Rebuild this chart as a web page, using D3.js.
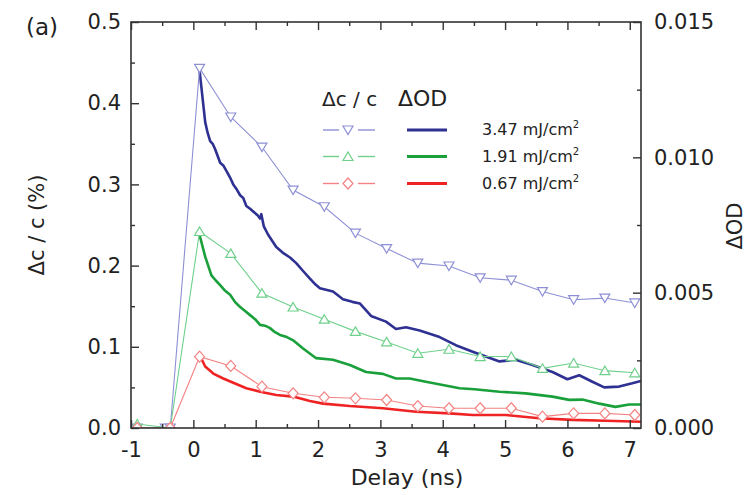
<!DOCTYPE html>
<html><head><meta charset="utf-8">
<script src="https://cdn.jsdelivr.net/npm/d3@7"></script>
<style>body{margin:0;background:#fff}text{font-family:"DejaVu Sans",sans-serif;fill:#222}</style>
</head><body><svg id="c" width="756" height="495"></svg>
<script>
// ---------- data ----------
const fluences = ["3.47", "1.91", "0.67"];

// Δc/c (%) probe points (markers)
const blueDcT  = [-0.9,-0.45,-0.37,0.1,0.6,1.1,1.6,2.1,2.6,3.1,3.6,4.1,4.6,5.1,5.6,6.1,6.6,7.08];
const blueDc   = [0,0,0,0.443,0.383,0.346,0.293,0.2725,0.240,0.221,0.203,0.1995,0.185,0.182,0.168,0.158,0.160,0.154];
const greenDcT = [-0.9,-0.37,0.1,0.6,1.1,1.6,2.1,2.6,3.1,3.6,4.1,4.6,5.1,5.6,6.1,6.6,7.08];
const greenDc  = [0.005,0,0.242,0.215,0.166,0.149,0.134,0.119,0.106,0.092,0.097,0.088,0.088,0.0735,0.080,0.0706,0.068];
const redDcT   = [-0.9,-0.37,0.1,0.6,1.1,1.6,2.1,2.6,3.1,3.6,4.1,4.6,5.1,5.6,6.1,6.6,7.08];
const redDc    = [0,0,0.0878,0.0764,0.0509,0.0427,0.0378,0.0366,0.0345,0.027,0.0243,0.0243,0.0243,0.014,0.018,0.018,0.016];

// ΔOD traces (right axis)
const blueOdT  = [0.1,0.19,0.23,0.27,0.31,0.35,0.43,0.48,0.53,0.6,0.64,0.7,0.75,0.8,0.85,0.91,0.96,1.03,1.07,1.09,1.13,1.2,1.33,1.45,1.55,1.65,1.76,1.87,1.96,2.03,2.24,2.4,2.55,2.67,2.85,3.09,3.25,3.41,3.63,3.95,4.21,4.48,4.69,4.91,5.17,5.44,5.76,6.0,6.19,6.4,6.59,6.83,7.04,7.18];
const blueOd   = [0.0132,0.0113,0.0109,0.0106,0.0105,0.0103,0.0098,0.0097,0.0095,0.0092,0.0090,0.0088,0.0086,0.0085,0.0082,0.0081,0.0080,0.00786,0.00774,0.00790,0.00745,0.00714,0.00669,0.00645,0.00630,0.00609,0.00580,0.00552,0.00530,0.00516,0.00504,0.00476,0.00466,0.00460,0.00414,0.00393,0.00366,0.00372,0.0036,0.00336,0.00306,0.00282,0.00264,0.00246,0.00252,0.00233,0.00207,0.0018,0.00195,0.00171,0.0015,0.00153,0.00165,0.00174];
const greenOdT = [0.1,0.19,0.29,0.36,0.43,0.51,0.59,0.67,0.75,0.83,0.91,0.99,1.07,1.15,1.23,1.31,1.39,1.5,1.6,1.76,1.97,2.24,2.51,2.77,3.04,3.25,3.47,3.73,4.0,4.27,4.51,4.91,5.33,5.76,6.03,6.24,6.51,6.77,6.99,7.18];
const greenOd  = [0.00713,0.00633,0.00564,0.00545,0.00528,0.00507,0.00492,0.00465,0.00447,0.00432,0.00417,0.00402,0.00381,0.00378,0.00369,0.00354,0.00344,0.00336,0.00324,0.00294,0.00258,0.00252,0.00233,0.00207,0.0020,0.00183,0.00183,0.00171,0.00159,0.00147,0.00143,0.00134,0.00128,0.00116,0.00104,0.00105,0.0009,0.00078,0.00087,0.00087];
const redOdT   = [0.1,0.19,0.32,0.48,0.64,0.85,1.07,1.33,1.6,1.87,2.08,2.51,3.04,3.57,4.11,4.48,5.01,5.55,6.08,6.61,7.18];
const redOd    = [0.0027,0.00227,0.00201,0.00183,0.00167,0.00147,0.00134,0.00122,0.00116,0.0010,0.0009,0.00081,0.00073,0.0006,0.00054,0.00048,0.00048,0.00036,0.0003,0.00027,0.00023];

const xTicks = [-1,0,1,2,3,4,5,6,7];
const xMinor = [-0.5,0.5,1.5,2.5,3.5,4.5,5.5,6.5];
const yTicks = [0,0.1,0.2,0.3,0.4,0.5];
const yMinor = [0.05,0.15,0.25,0.35,0.45];
const y2Ticks = [0,0.005,0.010,0.015];
const y2Minor = [0.0025,0.0075,0.0125];

// ---------- layout ----------
const L = 131, R = 641, T = 22, B = 428;
const svg = d3.select("#c");
const x = d3.scaleLinear().domain([-1, 7.18]).range([L, R]);
const y = d3.scaleLinear().domain([0, 0.5]).range([B, T]);
const y2 = d3.scaleLinear().domain([0, 0.015]).range([B, T]);

const colors = {
  blue:  {dark:"#2e3192", light:"#8d90d4"},
  green: {dark:"#19a03a", light:"#6fd08c"},
  red:   {dark:"#ef2323", light:"#f48282"}
};

svg.append("defs").append("clipPath").attr("id","clip")
  .append("rect").attr("x",L).attr("y",T-8).attr("width",R-L).attr("height",B-T+8);

const plot = svg.append("g").attr("clip-path","url(#clip)");

// ΔOD solid lines
const odLine = d3.line().x(d=>x(d[0])).y(d=>y2(d[1]));
[[blueOdT,blueOd,"blue"],[greenOdT,greenOd,"green"],[redOdT,redOd,"red"]].forEach(([t,v,c])=>{
  plot.append("path").datum(t.map((tt,i)=>[tt,v[i]]))
    .attr("d",odLine).attr("fill","none").attr("stroke",colors[c].dark)
    .attr("stroke-width",2.6).attr("stroke-linejoin","round");
});

// marker shapes
const shapes = {
  down: "M-5,-4L5,-4L0,4.5Z",
  up: "M0,-4.5L5,4L-5,4Z",
  diamond: "M0,-5.5L5,0L0,5.5L-5,0Z"
};

const dcLine = d3.line().x(d=>x(d[0])).y(d=>y(d[1]));
[[blueDcT,blueDc,"blue","down"],[greenDcT,greenDc,"green","up"],[redDcT,redDc,"red","diamond"]].forEach(([t,v,c,s])=>{
  const pts = t.map((tt,i)=>[tt,v[i]]);
  plot.append("path").datum(pts).attr("d",dcLine).attr("fill","none")
    .attr("stroke",colors[c].light).attr("stroke-width",1.1);
  plot.selectAll(null).data(pts).enter().append("path")
    .attr("d",shapes[s]).attr("transform",d=>`translate(${x(d[0])},${y(d[1])})`)
    .attr("fill","#fff").attr("stroke",colors[c].light).attr("stroke-width",1.2);
});

// ---------- axes ----------
const axisColor = "#333";
function styleAxis(g){
  g.select(".domain").remove();
  g.selectAll(".tick line").attr("stroke",axisColor).attr("stroke-width",1.4);
  g.selectAll("text").attr("font-size",21).attr("fill","#222").attr("font-family","DejaVu Sans, sans-serif");
}
svg.append("g").attr("transform",`translate(0,${B})`)
  .call(d3.axisBottom(x).tickValues(xTicks).tickSize(-8).tickPadding(14).tickFormat(d=>d<0?"-"+Math.abs(d):d))
  .call(styleAxis);
svg.append("g").attr("transform",`translate(0,${B})`)
  .call(d3.axisBottom(x).tickValues(xMinor).tickSize(-4).tickFormat(""))
  .call(styleAxis);
svg.append("g").attr("transform",`translate(0,${T})`)
  .call(d3.axisTop(x).tickValues(xTicks).tickSize(-8).tickFormat(""))
  .call(styleAxis);
svg.append("g").attr("transform",`translate(0,${T})`)
  .call(d3.axisTop(x).tickValues(xMinor).tickSize(-4).tickFormat(""))
  .call(styleAxis);
svg.append("g").attr("transform",`translate(${L},0)`)
  .call(d3.axisLeft(y).tickValues(yTicks).tickSize(-8).tickPadding(10).tickFormat(d3.format(".1f")))
  .call(styleAxis);
svg.append("g").attr("transform",`translate(${L},0)`)
  .call(d3.axisLeft(y).tickValues(yMinor).tickSize(-4).tickFormat(""))
  .call(styleAxis);
svg.append("g").attr("transform",`translate(${R},0)`)
  .call(d3.axisRight(y2).tickValues(y2Ticks).tickSize(-8).tickPadding(13).tickFormat(d3.format(".3f")))
  .call(styleAxis);
svg.append("g").attr("transform",`translate(${R},0)`)
  .call(d3.axisRight(y2).tickValues(y2Minor).tickSize(-4).tickFormat(""))
  .call(styleAxis);

// frame
svg.append("rect").attr("x",L).attr("y",T).attr("width",R-L).attr("height",B-T)
  .attr("fill","none").attr("stroke",axisColor).attr("stroke-width",1.6);

// titles
svg.append("text").attr("x",407).attr("y",485).attr("text-anchor","middle")
  .attr("font-size",22).text("Delay (ns)");
svg.append("text").attr("transform","translate(44,225) rotate(-90)").attr("text-anchor","middle")
  .attr("font-size",21).text("\u0394c / c (%)");
svg.append("text").attr("transform","translate(742,226) rotate(-90)").attr("text-anchor","middle")
  .attr("font-size",21).text("\u0394OD");
svg.append("text").attr("x",26).attr("y",35).attr("font-size",23).text("(a)");

// ---------- legend ----------
const lg = svg.append("g");
lg.append("text").attr("x",322).attr("y",106).attr("font-size",20).text("\u0394c / c");
lg.append("text").attr("x",398).attr("y",106).attr("font-size",22).text("\u0394OD");
const rows = [["blue","down"],["green","up"],["red","diamond"]];
const rowY = [130,156.5,183.5];
rows.forEach(([c,s],i)=>{
  const yy = rowY[i];
  lg.append("line").attr("x1",323).attr("x2",339).attr("y1",yy).attr("y2",yy)
    .attr("stroke",colors[c].light).attr("stroke-width",1.4);
  lg.append("line").attr("x1",358).attr("x2",375).attr("y1",yy).attr("y2",yy)
    .attr("stroke",colors[c].light).attr("stroke-width",1.4);
  lg.append("path").attr("d",shapes[s]).attr("transform",`translate(348,${yy})`)
    .attr("fill","#fff").attr("stroke",colors[c].light).attr("stroke-width",1.2);
  lg.append("line").attr("x1",407).attr("x2",447).attr("y1",yy).attr("y2",yy)
    .attr("stroke",colors[c].dark).attr("stroke-width",2.8);
  const t = lg.append("text").attr("x",482).attr("y",yy+5).attr("font-size",16);
  t.append("tspan").text(fluences[i] + " mJ/cm");
  t.append("tspan").attr("dy",-7).attr("font-size",10).text("2");
});
</script></body></html>
